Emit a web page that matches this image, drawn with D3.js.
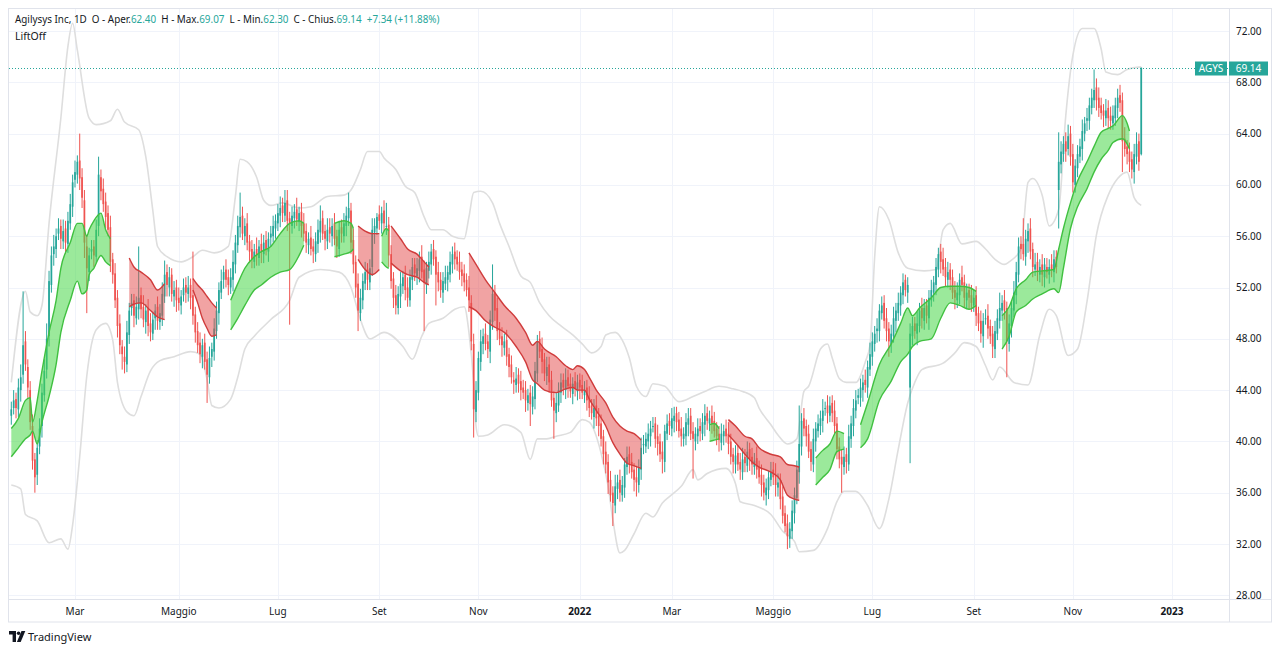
<!doctype html>
<html>
<head>
  <meta charset="UTF-8">
  <script src="https://d3js.org/d3.v7.min.js"></script>
  <style>
    body { margin: 0; background: #fff; }
    svg text { font-family: "Noto Sans", "Open Sans", sans-serif; }
  </style>
</head>
<body>
<svg id="chart" width="1280" height="653"></svg>
<script>
// ---- daily candles (index 0 = first session shown) ----
const openP = [
42,42.6,43.3,42.5,44,45.2,47.8,45.8,44,41.2,
38.6,37.4,39.6,41.2,43.6,45.6,48.2,52.2,54.6,55,
56.2,56.8,55.6,56.6,55.4,57,58.3,60.4,60.8,61.9,
60.6,58.8,55.2,53.2,54.8,55.2,54.4,56.8,60.6,59.7,
58.7,57.8,56.7,54.2,53.1,51.2,49.2,47.4,46.6,46,
48.3,50.4,51,49.6,50.3,51.4,50.5,49.3,50.4,49.2,
48.4,49.6,50.5,49.3,49.8,51.3,53.2,52,53,51.3,
52,51.2,50.6,51.4,52.2,51.5,52.2,51.4,49.9,48.6,
47.7,46.6,47.7,46.4,45,46.6,47,48.6,50,51.6,
52.6,53.4,52.8,52,52.6,53.8,55.3,56.7,57.6,56,
57,55.6,55,54,55,54.3,55.4,54.6,55.7,54.8,
55.9,56,56.6,57,57.6,58.4,57.6,58.8,57.4,56.8,
57.4,58.1,57.1,57.9,57,56.4,55.3,55.9,55.2,54.6,
55.4,56.3,57.4,56.4,55.6,56.7,56,57,56,55,
56.7,56,56.8,57.4,58,55.7,54,52.3,50,51,
52.3,53.4,52.4,53.6,56.3,56.6,57.7,57,58,56.8,
56.9,54.6,52.7,51.4,50.4,51.3,52.1,53,52,51,
52.6,53.8,52.9,53.3,54.4,53.4,52.2,53.3,53.8,55,
54.4,53.2,52.6,51.6,52.3,52.6,53,53.8,54.8,54.4,
54,53.4,53.1,52.6,52,50.8,47.6,42.3,43.8,46.2,
47.6,48.4,47.8,47,49.3,51.6,50.4,48.8,48.2,47.3,
47.9,46.8,46,44.8,44.4,45.2,44.7,44.2,44,43,
43.8,42.7,43.3,45.3,48,47.2,46.4,45.1,46,44.8,
43.4,42.2,42.8,43.8,44.8,44,45,44.5,43.7,44.7,
43.9,44.8,44.4,43.6,44.2,43.4,42.8,41.9,42.8,42,
41.4,40.4,39.2,38.4,37,36,35,36.3,37,35.8,
36.4,38,39,38.4,37.8,37.2,36.6,37.8,39.7,39.6,
40,40.4,41.2,41.4,40.4,40,39.2,38.4,40.6,41.6,
41,41.6,42.2,41.7,41,40.2,40.4,41.3,42,40.8,
40,40.4,41.2,40.6,41.3,42.2,41.4,42,41.6,41,
40.6,39.9,40.4,41,40.6,40,39,38.2,39.1,38.4,
37.6,38.8,38.1,39.4,38.8,38,38.7,38,37.4,36.8,
35.8,36.2,37,37.8,37.4,36.4,37,35.7,34.4,33.6,
32.4,33,34.4,35.6,37.6,39.6,41.8,41.2,40.6,39.4,
38.2,40,40.8,41.2,41.6,42.6,42.8,42,43,42.4,
41.4,39.6,38.8,38,39,38.2,40.2,41.2,42.4,43.4,
43.4,44,44.8,44.2,45.6,46.6,47.6,48.6,48.6,50,
50.8,49.6,48.8,47.6,48.2,49.4,50,50.6,51.4,52.6,
51.6,44.2,48.2,49.2,48.4,49,50.4,49.4,50.6,49.6,
51,51.6,52.2,53.4,54.8,54.2,53.6,52.6,53.4,52.8,
51.8,51,51.4,52.8,52.4,51,51.8,51.4,50.6,51.4,
50,49.4,48.2,49.6,49.8,49,48.4,47.2,48.4,49.4,
50.2,51,50.4,47.6,49,50.2,51.4,53,55.4,55.4,
54.4,55.6,56.6,55,53.4,54,53,53.8,52.8,53.6,
53,53.8,53.2,54.4,59.6,61.6,62.4,63.4,62.8,64,
62.4,60,61.3,62.2,62.8,64,65,65,66,66.6,
67.6,66.8,66.2,65.8,65.2,66,65.4,64.8,65.2,66,
67,66.6,63.6,63,62.6,62,61,62.2,63.4,62.4];

const closeP = [
42.5,43.2,42.6,44.2,45,47.5,46,44.2,41.5,38.5,
37.2,39.5,41,43.8,45.5,48,52.5,54.5,55.2,56,
56.6,55.8,56.4,55.5,57.2,58.5,60.2,61,61.8,60.5,
59,55.5,53.5,54.5,55,54.5,56.5,60.8,59.5,58.5,
57.5,56.5,54,53,51,49,47.5,46.8,46.2,48.5,
50.2,50.8,49.8,50.5,51.2,50.3,49.5,50.2,49,48.5,
49.5,50.2,49.4,50,51.5,53,52.2,52.8,51.5,51.8,
51,50.8,51.3,52,51.6,52,51.2,49.8,48.5,47.5,
46.8,47.5,46.2,45.2,46.5,47.2,48.8,50.2,51.8,52.5,
53.2,52.6,52.2,52.8,54,55.5,56.8,57.5,56.2,56.8,
55.5,54.8,54.2,54.8,54.5,55.2,54.8,55.5,55,55.8,
56.2,56.8,57.2,57.8,58.2,57.8,58.6,57.2,57,57.6,
57.9,57.3,57.8,56.8,56.2,55.5,55.8,55,54.8,55.6,
56.5,57.2,56.2,55.8,56.5,56.2,56.8,55.8,55.2,56.5,
56.2,57,57.6,58.2,55.5,53.8,52,50.2,51.2,52.5,
53.2,52.6,53.5,56.5,56.8,57.5,57.2,57.8,57,56.8,
54.5,52.5,51.2,50.6,51.5,52.3,52.8,51.8,51.2,52.8,
53.6,53.1,53.5,54.2,53.2,52.4,53.5,54,54.8,54.2,
53,52.4,51.8,52.5,52.8,53.2,54,54.6,54.2,53.8,
53.2,52.9,52.4,51.8,51,47.8,42.5,44,46.5,47.8,
48.2,47.6,47.2,49.5,51.5,50.2,48.6,48,47.5,47.8,
46.6,45.8,45,44.6,44.9,44.5,44,43.8,43.2,43.6,
42.9,43.5,45.5,47.8,47,46.2,45.3,45.8,44.6,43.2,
42.4,43,44,44.6,44.2,44.8,44.3,43.9,44.5,44.1,
44.6,44.2,43.8,44,43.2,42.6,42.2,42.6,41.8,41.2,
40.2,39,38.2,36.8,35.8,35.2,36.5,36.8,36,36.6,
38.2,38.8,38.2,37.6,37,36.8,38,39.5,39.8,40.2,
40.6,41,41.2,40.2,39.8,39,38.6,40.8,41.4,41.2,
41.8,42,41.5,40.8,40.4,40.6,41.5,41.8,40.6,40.2,
40.6,41,40.8,41.5,42,41.6,41.8,41.4,40.8,40.4,
40.1,40.6,40.8,40.4,39.8,38.8,38.4,38.9,38.2,37.8,
38.6,38.3,39.2,38.6,38.2,38.5,37.8,37.2,36.6,36,
36.4,37.2,37.6,37.2,36.6,36.8,35.5,34.2,33.4,32.6,
33.2,34.6,35.8,37.8,39.8,41.6,41,40.4,39.2,38.4,
40.2,41,41.4,41.8,42.4,42.6,42.2,42.8,42.2,41.2,
39.4,38.6,38.2,38.8,38.4,40.4,41.4,42.6,43.2,43.6,
44.2,44.6,44.4,45.8,46.8,47.8,48.4,48.8,50.2,50.6,
49.4,48.6,47.8,48.4,49.6,50.2,50.8,51.6,52.4,51.8,
52.2,48.4,49,48.6,49.2,50.2,49.6,50.4,49.8,51.2,
51.8,52.4,53.6,54.6,54,53.4,52.8,53.2,52.6,51.6,
51.2,51.6,52.6,52.2,51.2,51.6,51.2,50.8,51.2,49.8,
49.2,48.4,49.4,49.6,48.8,48.2,47.4,48.6,49.6,50.4,
50.8,50.2,47.8,49.2,50.4,51.6,53.2,55.2,55,54.6,
55.8,56.4,54.8,53.6,53.8,53.2,53.6,53,53.8,53.2,
53.6,53.4,54.2,53.6,61.8,62.6,63.2,62.6,63.8,62.2,
60.2,61.5,62.4,63,64.2,64.8,65.2,66.2,66.8,67.4,
66.6,66,65.6,65.4,65.8,65.2,65,65.4,66.2,66.8,
66.4,63.4,62.8,62.4,61.8,61.2,62.4,63.2,61.8,69.14];

// upper and lower shadow length of each candle
const wickUp = [
0.6,0.8,0.5,0.7,1.0,4.2,0.8,0.6,0.7,0.9,
0.5,0.6,0.8,0.7,0.9,1.2,0.8,0.7,0.9,0.6,
0.8,0.5,0.9,0.6,0.7,0.8,0.6,0.9,0.5,2.1,
0.7,0.8,0.9,0.6,0.7,0.5,0.8,1.4,0.6,0.8,
0.7,0.6,0.9,0.5,0.8,0.6,0.7,0.5,0.8,0.9,
0.6,0.7,0.5,0.8,4.0,0.6,0.9,0.5,0.7,0.8,
0.6,0.5,0.8,0.7,0.9,1.1,0.6,0.8,0.5,0.7,
0.6,0.8,0.5,0.7,0.6,0.9,0.5,3.4,0.6,0.7,
0.8,0.5,0.7,0.6,0.9,0.5,0.8,0.7,0.6,0.9,
0.5,0.8,0.6,0.7,0.9,0.6,0.8,1.9,0.7,0.6,
0.8,0.5,0.7,0.6,0.9,0.5,0.8,0.6,0.7,0.5,
0.6,0.8,0.5,0.7,0.9,0.6,1.0,0.8,0.5,0.7,
0.6,0.9,0.5,0.7,0.8,0.6,0.5,0.9,0.6,0.7,
0.8,1.2,0.6,0.5,0.9,0.7,0.6,0.8,0.5,0.7,
0.6,0.8,0.7,1.2,0.6,0.9,0.5,0.8,0.7,0.6,
0.8,0.5,0.7,0.9,0.6,0.3,0.7,0.5,0.8,1.8,
0.6,0.7,0.5,0.8,0.6,0.9,0.5,0.7,0.8,0.6,
0.7,0.5,0.8,0.6,0.9,0.7,0.5,0.8,0.6,0.7,
0.5,0.8,0.6,0.7,0.9,0.5,0.8,0.6,0.7,0.5,
0.8,0.6,0.7,0.5,0.9,0.6,0.8,0.7,0.5,0.9,
0.6,0.8,0.5,0.7,2.3,0.6,0.8,0.5,0.7,0.6,
0.8,0.5,0.7,0.6,0.9,0.5,0.8,0.6,0.7,0.5,
0.6,0.8,0.7,0.5,0.6,0.9,0.5,0.8,0.6,0.7,
0.5,0.8,0.6,0.7,0.5,0.9,0.6,0.8,0.5,0.7,
0.6,0.5,0.8,0.7,0.6,0.9,0.5,0.7,0.8,0.6,
0.7,0.5,0.8,0.6,0.7,0.5,0.9,0.6,0.8,0.7,
0.5,0.8,0.6,0.7,0.5,0.9,0.6,0.8,0.7,0.5,
0.8,0.6,0.7,0.5,0.9,0.6,0.8,0.5,0.7,0.6,
0.8,0.7,0.5,0.6,0.9,0.5,0.7,0.8,0.6,0.7,
0.5,0.8,0.6,0.7,0.9,0.5,0.6,0.8,0.7,0.5,
0.6,0.8,0.5,0.7,0.9,0.6,0.5,0.8,0.6,0.7,
0.9,0.6,0.8,0.5,0.7,0.6,0.9,0.5,0.8,0.6,
0.7,0.5,0.8,0.6,0.9,0.7,0.5,0.8,0.6,0.7,
0.5,0.8,0.6,0.7,3.0,0.6,0.8,0.5,0.7,0.6,
0.8,0.5,0.7,0.6,0.9,0.5,0.8,0.7,0.6,0.8,
0.5,0.7,0.6,0.8,0.5,0.9,0.6,0.7,0.8,0.5,
0.7,0.6,0.8,0.5,0.9,0.7,0.6,0.8,0.5,0.7,
0.6,0.8,0.5,0.7,0.9,0.6,0.8,0.5,0.7,0.4,
0.6,0.8,0.7,0.5,0.9,0.6,0.8,0.7,0.5,0.6,
0.8,0.5,0.7,0.5,0.6,0.9,0.7,0.8,0.5,0.6,
0.7,0.8,0.5,0.9,0.6,0.7,0.5,0.8,0.6,0.7,
0.5,0.8,0.6,0.7,0.9,0.5,0.6,0.8,0.7,1.2,
0.6,0.8,0.5,0.7,0.6,0.9,0.8,0.7,0.6,2.0,
0.7,0.6,0.8,0.5,0.9,0.7,0.6,0.8,0.5,0.7,
0.6,0.8,0.7,0.5,2.3,0.8,0.6,0.7,0.9,0.6,
0.8,0.5,0.7,0.6,0.9,0.5,0.8,0.6,0.7,1.6,
0.7,0.8,0.6,0.5,0.9,0.6,0.7,0.8,0.6,0.7,
0.8,0.6,0.9,0.5,0.7,0.6,0.8,0.9,0.6,0.0];

const wickDown = [
0.7,0.5,0.8,0.6,0.9,0.7,0.5,0.8,0.6,0.7,
1.2,0.8,0.6,0.9,0.5,0.7,0.8,0.6,0.9,0.7,
0.5,0.8,0.6,0.9,0.7,0.5,0.8,0.6,0.7,0.9,
0.8,1.2,3.5,0.7,0.6,0.9,0.5,0.8,0.7,0.6,
0.9,0.5,0.8,0.7,0.6,0.9,0.7,1.2,0.9,0.6,
0.7,0.6,0.9,0.5,0.8,0.7,0.6,0.9,0.8,0.7,
0.5,0.9,0.7,0.6,0.8,0.5,0.9,0.7,0.6,0.8,
0.9,0.6,0.7,0.5,0.8,0.6,0.9,0.7,0.8,0.6,
0.7,0.9,0.6,2.2,0.5,0.8,0.7,0.6,0.9,0.5,
0.7,0.6,0.8,0.5,0.9,0.7,0.6,0.8,0.5,0.7,
0.6,0.9,0.7,0.5,0.8,0.6,0.9,0.7,0.5,0.8,
0.7,0.5,0.8,0.6,0.9,0.7,0.5,0.8,7.9,0.6,
0.8,0.5,0.7,0.9,0.6,0.8,0.7,0.5,0.9,0.6,
0.7,0.8,0.5,0.9,0.6,0.7,0.8,0.5,0.9,0.6,
0.7,0.5,0.8,0.6,0.9,0.7,0.8,1.6,0.6,0.7,
0.5,0.8,0.6,0.7,0.9,0.5,0.7,0.8,0.6,0.7,
0.9,0.6,0.8,0.7,0.5,0.9,0.6,0.8,0.7,0.5,
0.8,0.6,0.7,0.9,0.5,3.8,0.7,0.6,0.8,0.5,
2.4,0.7,0.6,0.8,0.5,0.9,0.6,0.7,0.8,0.5,
0.6,0.8,0.7,0.5,0.9,0.7,2.2,0.8,0.6,0.7,
0.8,0.5,0.7,0.9,0.6,0.8,0.7,0.5,0.9,0.6,
0.7,0.8,0.5,0.9,0.6,0.7,0.8,0.5,0.9,0.6,
1.7,0.6,0.8,0.7,0.5,0.9,0.6,0.7,0.8,0.5,
2.2,0.7,0.5,0.8,0.6,0.7,0.9,0.5,0.8,0.6,
0.7,0.9,0.5,0.6,0.8,0.7,0.5,0.9,0.6,0.8,
0.6,0.8,0.7,0.9,0.5,1.8,0.6,0.8,0.7,0.5,
0.8,0.6,0.7,0.5,0.9,1.1,0.6,0.8,0.7,0.5,
0.6,0.8,0.5,0.7,0.9,0.6,1.1,0.8,0.5,0.7,
0.6,0.9,0.7,0.5,0.8,0.6,0.7,0.9,0.5,3.1,
0.7,0.6,0.8,0.5,0.9,0.7,0.6,0.8,0.5,0.7,
0.9,0.6,0.7,0.5,0.8,0.6,0.9,0.7,0.5,0.8,
0.6,0.7,0.5,0.9,0.8,0.6,0.7,0.5,0.9,0.6,
0.8,0.7,0.5,0.6,0.9,0.7,0.8,0.6,0.5,1.0,
0.7,0.6,0.8,0.5,0.9,0.7,0.6,0.8,0.5,0.7,
0.6,0.8,0.5,0.7,0.9,0.6,0.8,0.5,0.7,0.6,
0.8,0.7,2.2,0.6,0.9,0.5,0.7,0.8,0.6,0.5,
0.7,0.9,0.6,0.8,0.5,0.7,0.6,0.9,0.8,0.5,
0.6,0.8,1.2,0.7,0.5,0.9,0.6,0.8,0.7,0.5,
0.8,5.9,0.7,0.6,0.9,0.5,0.8,0.7,0.6,0.9,
0.5,0.7,0.8,0.6,0.9,0.5,0.7,0.6,0.8,0.5,
0.9,0.6,0.7,0.5,0.8,0.6,0.9,0.7,0.5,0.8,
0.6,0.7,0.9,0.5,0.8,0.6,0.9,0.7,0.5,0.6,
0.8,0.7,2.8,0.6,0.9,0.5,0.7,0.6,0.8,0.5,
0.7,0.9,0.6,0.8,0.5,0.7,0.6,0.9,0.8,0.5,
0.7,0.6,0.8,0.5,3.0,0.7,0.6,0.8,0.5,0.7,
0.8,0.6,0.7,0.5,0.9,0.6,0.8,0.7,0.5,0.6,
0.8,0.7,0.5,0.9,0.6,0.8,0.7,0.5,0.6,0.8,
0.7,2.4,0.6,0.8,0.8,0.7,0.9,0.6,0.7,0.1];

// ---- LiftOff band: index, top, bottom (null = break between segments) ----
const bandIdx = [0,3,6,8,9,11,13,16,19,21,25,28,30,32,33,35,38,40,42, null,
  50,52,55,59,62,65, null,
  77,79,81,83,85,87, null,
  93,96,99,103,106,110,114,118,122,124, null,
  137,141,144,145, null,
  147,150,153,156, null,
  157,159,160, null,
  161,165,168,172,175,177, null,
  194,197,201,205,209,214,218,221,223,226,231,235,238,240,243,245,248,252,255,258,261,264,267, null,
  296,298,300, null,
  304,307,311,314,317,322,326,329,332,334, null,
  341,344,347,350,353, null,
  360,363,368,373,377,380,382,385,390,394,398,402,406,409, null,
  420,423,426,430,433,437,442,444,446,449,452,456,459,462,465,467,471,473,474];
const bandTop = [41,41.8,43.2,43.4,41.5,43.2,45.5,48.5,51,53.5,55.5,57,57,56,56.5,57.2,57.8,56.5,55.8, null,
  54.3,53.6,53.2,52.6,51.8,52.3, null,
  52.7,52.2,51.8,51.3,50.8,50.4, null,
  51,52.3,53.5,54.4,54.8,55.2,56.2,57,57.2,57, null,
  57,57.2,57,56.6, null,
  56.8,56.4,56.2,56.2, null,
  56,56.6,56.4, null,
  56.8,55.8,55,54.6,54,53.6, null,
  54.7,53.8,52.6,51.6,50.6,49.6,48.5,47.5,47.8,47.2,46.6,45.9,45.6,45.9,45.6,45,44,43,41.9,41.2,40.8,40.6,40.1, null,
  41.3,41.4,41, null,
  41.7,41.2,40.4,40.2,39.5,39,38.8,38.2,38.1,38, null,
  38.7,39.3,39.8,40.8,40.6, null,
  41.3,43,46,47.6,49.2,50.4,49.8,50.4,51.2,52,52.1,52.1,52,51.7, null,
  49.8,50.5,51.9,52.6,53.2,53.3,53.4,55,56.6,58.6,60.3,61.8,63,64.1,64.4,64.6,65.4,64.8,64.2];
const bandBot = [38.8,39.5,40.2,40.5,40.8,39.8,41.5,43.5,46,48.5,51,52.5,51.5,51.8,53,53.5,54.5,54,53.7, null,
  50.5,50.7,50.8,50.2,49.7,49.5, null,
  51.8,50.8,49.6,48.8,48.2,48.3, null,
  48.7,49.6,50.6,51.8,52.2,52.8,53.2,53.4,54.5,55.3, null,
  54.4,54.6,54.8,55, null,
  54.2,53.4,53,53.4, null,
  54,53.6,53.5, null,
  53.9,53.3,53,52.8,52.4,52.2, null,
  50.5,50.2,49.4,48.9,48.5,47.4,46.2,44.8,44.5,44,43.8,44.1,44.2,44,44,43.3,42.4,41.2,39.9,39,38.3,38.1,37.9, null,
  40,40.1,40.2, null,
  40.5,39.9,39,38.4,38,37.6,37,35.8,35.5,35.4, null,
  36.6,37.2,37.8,39.2,39.4, null,
  39.5,40.2,43.2,44.7,46.2,46.8,47.4,47.8,48,49.6,50.8,50.6,50.3,50.6, null,
  47.2,48.2,50.1,50.6,51.1,51.5,51.9,51.6,53.5,56.6,58.3,59.7,61,62,62.7,63.3,63.6,63.2,62.8];
const bandTrend = [1,-1,-1,1,1,-1,1,-1,-1,1,-1,1,1,1]; // one per segment: 1 up (green), -1 down (red)

// ---- outer envelope lines ----
const upperIdx = [0,6,8,11,13,16,21,24,26,28,33,36,42,45,48,54,57,60,62,66,72,77,81,86,92,95,97,100,104,107,110,115,122,127,134,141,144,148,151,156,158,163,167,171,175,178,183,187,192,194,196,199,204,207,211,216,220,224,228,233,238,242,246,250,252,256,259,262,265,269,272,277,283,289,294,300,306,310,315,317,322,325,329,333,336,338,343,346,348,351,354,358,362,364,366,368,372,376,380,387,392,395,398,403,409,413,417,421,423,428,431,433,437,440,444,447,450,454,459,462,464,469,473,479];
const upperVal = [44.6,51.7,50.1,49.8,50.6,57,65.2,70.8,72.6,70.5,65.2,64.7,65,65.9,64.9,64.3,62.2,58,55.2,54.4,54,54.4,54.9,54.7,55.2,59.1,62,61.8,60.6,58.8,58.4,58.6,58.2,58.3,59.1,59.2,59.6,61.2,62.6,62.6,62.1,61.2,59.9,59.4,57.5,56.5,56.5,56,55.8,57.5,59.4,59.5,58.6,57,55.2,52.9,52.4,50.8,49.8,49,48.3,47.6,46.9,47.4,48.3,48.5,47.9,46.5,44.3,43.5,44.5,44.3,43.1,43.5,43.9,44.3,44.1,43.9,43.4,42.6,41.3,40.5,39.8,40.2,43.9,44.3,47.2,47.6,46.5,44.9,44.6,44.6,46.2,47.5,54.4,58.3,57.3,54.7,53.5,53.3,53.4,56.5,57,55.4,55.6,55,54.2,53.8,54,55,60.2,60.5,59.2,56.8,58.1,65.4,70.1,72.2,72.2,70.6,68.8,68.6,69,69.2];
const lowerIdx = [0,4,6,11,16,21,24,26,29,32,36,40,43,45,49,52,55,59,63,69,76,80,83,85,88,93,96,99,103,110,118,122,131,139,144,148,152,158,166,170,174,177,183,188,192,194,196,197,198,202,209,216,220,223,227,231,237,242,245,250,253,255,258,260,264,269,272,276,279,284,289,291,295,303,307,309,315,322,327,332,334,340,346,350,353,358,363,368,372,376,380,383,386,395,400,404,409,413,416,419,425,431,436,440,443,448,452,456,460,465,469,473,476,479];
const lowerVal = [36.6,36.3,34.3,33.8,32.1,32.4,31.6,33.5,38.8,45.1,48.7,49.2,47.9,44.6,42.3,42,43.5,45.5,46.3,46.6,47,46.8,44.8,42.8,42.6,43.3,45,47.2,48.2,49.5,51,52.8,53.4,53.2,52,49.5,48,48.5,47.4,46.4,48.2,49.2,49.6,50.3,50.5,48.5,44.5,41.2,40.4,40.5,41.3,40.7,38.6,40.2,40.2,40.4,40.7,41.7,41.5,39.1,36.5,33.9,31.3,31.5,32.8,34.4,34.1,35.2,35.7,36.5,37.8,37,37.5,37.9,36.7,35.3,35,34.3,33,32.2,31.4,31.5,33.2,35.3,36.1,36.1,35,33.2,35.5,39.4,43,44.6,45.6,46.1,46.9,47.7,47.4,45.9,44.8,45.8,44.6,44.4,48.3,50.3,49.8,46.7,47.2,50.9,56.1,59.2,60.5,61,59,58.4];

// ---- axes ----
const priceTicks = [28, 32, 36, 40, 44, 48, 52, 56, 60, 64, 68, 72];
const timeTickIdx = [27, 71, 113, 156, 198, 241, 280, 323, 365, 408, 450, 492];
const timeTickLabel = ["Mar", "Maggio", "Lug", "Set", "Nov", "2022", "Mar", "Maggio", "Lug", "Set", "Nov", "2023"];
const lastPrice = 69.14;

const svg = d3.select("#chart");
const paneL = 9, paneR = 1229, paneT = 9, paneB = 599;
const UP = "#26a69a", DOWN = "#ef5350", TXT = "#131722";

const x = d3.scaleLinear().domain([0, 492]).range([11.3, 11.3 + 492 * 2.359]);
const y = d3.scaleLinear().domain([28, 72]).range([595.3, 31]);

svg.append("rect").attr("width", 1280).attr("height", 653).attr("fill", "#fff");
svg.append("defs").append("clipPath").attr("id", "pane").append("rect")
  .attr("x", paneL).attr("y", paneT).attr("width", paneR - paneL).attr("height", paneB - paneT);

// grid
const grid = svg.append("g").attr("stroke", "#f0f3fa").attr("stroke-width", 1);
grid.selectAll("line.gh").data(priceTicks).join("line").attr("class", "gh")
  .attr("x1", paneL).attr("x2", paneR)
  .attr("y1", d => Math.round(y(d)) + 0.5).attr("y2", d => Math.round(y(d)) + 0.5);
grid.selectAll("line.gv").data(timeTickIdx).join("line").attr("class", "gv")
  .attr("y1", paneT).attr("y2", paneB)
  .attr("x1", d => Math.round(x(d)) + 0.5).attr("x2", d => Math.round(x(d)) + 0.5);

const plot = svg.append("g").attr("clip-path", "url(#pane)");

// envelope
const envLine = d3.line().x(d => x(d[0])).y(d => y(d[1])).curve(d3.curveMonotoneX);
[[upperIdx, upperVal], [lowerIdx, lowerVal]].forEach(([ix, vals]) => {
  const pts = ix.slice(0, Math.min(ix.length, vals.length)).map((v, k) => [v, vals[k]]);
  plot.append("path").attr("d", envLine(pts))
    .attr("fill", "none").attr("stroke", "#dedede").attr("stroke-width", 1.6);
});

// candles
const candles = closeP.map((c, i) => {
  const o = openP[i];
  return { i, o, c, h: Math.max(o, c) + wickUp[i], l: Math.min(o, c) - wickDown[i] };
});
const cg = plot.append("g");
cg.selectAll("line").data(candles).join("line")
  .attr("x1", d => x(d.i)).attr("x2", d => x(d.i))
  .attr("y1", d => y(d.h)).attr("y2", d => y(d.l))
  .attr("stroke", d => d.c >= d.o ? UP : DOWN).attr("stroke-width", 1);
cg.selectAll("rect").data(candles).join("rect")
  .attr("x", d => x(d.i) - 0.85).attr("width", 1.7)
  .attr("y", d => y(Math.max(d.o, d.c)))
  .attr("height", d => Math.max(1, Math.abs(y(d.o) - y(d.c))))
  .attr("fill", d => d.c >= d.o ? UP : DOWN);

// LiftOff band segments
const segs = [];
let cur = null;
bandIdx.forEach((v, k) => {
  if (v === null) { cur = null; return; }
  if (!cur) { cur = { trend: bandTrend[segs.length], pts: [] }; segs.push(cur); }
  cur.pts.push({ i: v, t: bandTop[k], b: bandBot[k] });
});
const area = d3.area().x(d => x(d.i)).y0(d => y(d.b)).y1(d => y(d.t)).curve(d3.curveMonotoneX);
const topLine = d3.line().x(d => x(d.i)).y(d => y(d.t)).curve(d3.curveMonotoneX);
const botLine = d3.line().x(d => x(d.i)).y(d => y(d.b)).curve(d3.curveMonotoneX);
const bg = plot.append("g");
segs.forEach(s => {
  const fill = s.trend > 0 ? "rgba(72,215,72,0.55)" : "rgba(228,72,72,0.5)";
  const edge = s.trend > 0 ? "#40c040" : "#d03c3c";
  bg.append("path").attr("d", area(s.pts)).attr("fill", fill);
  bg.append("path").attr("d", topLine(s.pts)).attr("fill", "none").attr("stroke", edge).attr("stroke-width", 1.4);
  bg.append("path").attr("d", botLine(s.pts)).attr("fill", "none").attr("stroke", edge).attr("stroke-width", 1.4);
});

// last price line
const ly = Math.round(y(lastPrice)) + 0.5;
svg.append("line").attr("x1", paneL).attr("x2", paneR).attr("y1", ly).attr("y2", ly)
  .attr("stroke", UP).attr("stroke-width", 1).attr("stroke-dasharray", "1,2");

// frame
const frame = svg.append("g").attr("stroke", "#e0e3eb").attr("fill", "none");
frame.append("rect").attr("x", 8.5).attr("y", 8.5).attr("width", 1263).attr("height", 613.5);
frame.append("line").attr("x1", paneR + 0.5).attr("x2", paneR + 0.5).attr("y1", 8.5).attr("y2", 622);
frame.append("line").attr("x1", 8.5).attr("x2", 1271.5).attr("y1", paneB + 0.5).attr("y2", paneB + 0.5);

// price axis
svg.append("g").selectAll("text").data(priceTicks).join("text")
  .attr("x", 1236).attr("y", d => y(d)).attr("dy", "0.35em")
  .attr("font-size", 10).attr("fill", TXT).text(d => d.toFixed(2));

// last price labels
const lab = svg.append("g");
lab.append("rect").attr("x", 1195).attr("y", ly - 7).attr("width", 32).attr("height", 14).attr("fill", UP);
lab.append("text").attr("x", 1211).attr("y", ly).attr("dy", "0.35em").attr("text-anchor", "middle")
  .attr("font-size", 10).attr("fill", "#fff").text("AGYS");
lab.append("rect").attr("x", 1229).attr("y", ly - 7).attr("width", 39).attr("height", 14).attr("fill", UP);
lab.append("text").attr("x", 1248.5).attr("y", ly).attr("dy", "0.35em").attr("text-anchor", "middle")
  .attr("font-size", 10).attr("fill", "#fff").text(lastPrice.toFixed(2));

// time axis
svg.append("g").selectAll("text").data(timeTickIdx).join("text")
  .attr("x", d => x(d)).attr("y", 611).attr("dy", "0.35em").attr("text-anchor", "middle")
  .attr("font-size", 10).attr("fill", TXT)
  .attr("font-weight", (d, k) => /^\d{4}$/.test(timeTickLabel[k]) ? "bold" : "normal")
  .text((d, k) => timeTickLabel[k]);

// legend
const head = svg.append("text").attr("x", 15).attr("y", 23).attr("font-size", 11);
[["Agilysys Inc, 1D", TXT], ["\u00a0\u00a0O - Aper.", TXT], ["62.40", UP], ["\u00a0\u00a0H - Max.", TXT], ["69.07", UP],
 ["\u00a0\u00a0L - Min.", TXT], ["62.30", UP], ["\u00a0\u00a0C - Chius.", TXT], ["69.14", UP], ["\u00a0\u00a0+7.34 (+11.88%)", UP]]
  .forEach(p => head.append("tspan").attr("fill", p[1]).text(p[0]));
const hw = head.node().getComputedTextLength();
head.attr("font-size", 11 * 425 / hw);
svg.append("text").attr("x", 15).attr("y", 40).attr("font-size", 10.5).attr("fill", TXT).text("LiftOff");

// TradingView mark
const logo = svg.append("g").attr("fill", TXT);
logo.append("path").attr("d", "M9,631 h7 v11 h-3.4 v-7.6 h-3.6 z");
logo.append("circle").attr("cx", 18.6).attr("cy", 633.2).attr("r", 1.8);
logo.append("path").attr("d", "M21.5,631 h3.8 l-4.6,11 h-3.8 z");
svg.append("text").attr("x", 28).attr("y", 640.5).attr("font-size", 11).attr("fill", TXT).text("TradingView");
</script>
</body>
</html>
